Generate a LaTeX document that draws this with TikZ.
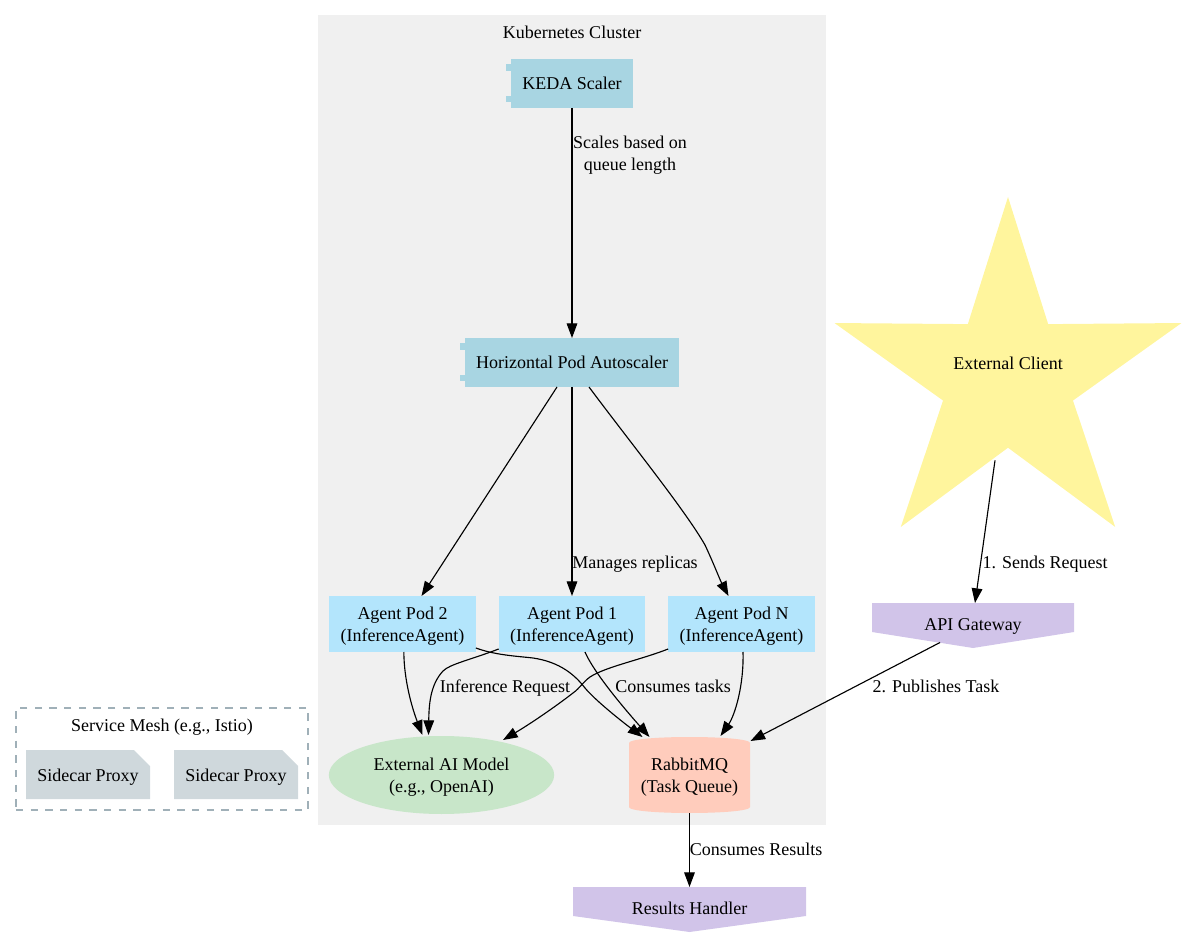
\documentclass[tikz,border=0pt]{standalone}
\usepackage{fontspec}
\setmainfont{Liberation Serif}
\usetikzlibrary{arrows.meta, shapes.geometric, shapes.misc}
\definecolor{clusterbg}{HTML}{F0F0F0}
\definecolor{scalerblue}{HTML}{A8D5E2}
\definecolor{podblue}{HTML}{B3E5FC}
\definecolor{modelgreen}{HTML}{C8E6C9}
\definecolor{queuepeach}{HTML}{FFCCBC}
\definecolor{gatewaypurple}{HTML}{D1C4E9}
\definecolor{clientyellow}{HTML}{FFF59D}
\definecolor{proxygrey}{HTML}{CFD8DC}
\definecolor{meshgrey}{HTML}{A0B0B8}
% Piccole linguette a sinistra dei componenti
\newcommand{\comptabs}[1]{
	\fill[scalerblue] ([shift={(-5.5,5.5)}]#1.north west) rectangle ([shift={(0,12)}]#1.north west);
	\fill[scalerblue] ([shift={(-5.5,-5.5)}]#1.south west) rectangle ([shift={(0,-12)}]#1.south west);
}
\begin{document}
\begin{tikzpicture}[x=0.75pt, y=-0.75pt, ->, >={Triangle[length=11pt, width=8pt]},
			line width=0.85pt,
			font=\fontsize{13.5pt}{16.5pt}\selectfont,
			every node/.style={align=center, inner sep=0pt, outer sep=0pt},
			oneline/.style={text height=12pt, text depth=3pt},
			twolines/.style={text height=28.5pt, text depth=3pt},
			compbox/.style={rectangle, oneline, fill=scalerblue, minimum height=36.75pt},
			podbox/.style={rectangle, twolines, fill=podblue, minimum width=110pt, minimum height=42pt},
			proxybox/.style={chamfered rectangle, oneline, text height=13.5pt, chamfered rectangle corners=north east,
				chamfered rectangle sep=6pt, fill=proxygrey, minimum width=93pt, minimum height=36.75pt},
			gatebox/.style={rectangle, oneline, text height=10.5pt, minimum height=33.75pt, path picture={
				\fill[gatewaypurple] (path picture bounding box.north west)
					-- (path picture bounding box.north east)
					-- ([yshift=12pt]path picture bounding box.south east)
					-- (path picture bounding box.south)
					-- ([yshift=12pt]path picture bounding box.south west) -- cycle;}},
			queuebox/.style={rectangle, twolines, minimum width=90.75pt, minimum height=57pt, path picture={
				\fill[queuepeach] ([shift={(0,6)}]path picture bounding box.north west)
					.. controls ([shift={(0,-2)}]path picture bounding box.north west)
					and ([shift={(0,-2)}]path picture bounding box.north east)
					.. ([shift={(0,6)}]path picture bounding box.north east)
					-- ([shift={(0,-6)}]path picture bounding box.south east)
					.. controls ([shift={(0,2)}]path picture bounding box.south east)
					and ([shift={(0,2)}]path picture bounding box.south west)
					.. ([shift={(0,-6)}]path picture bounding box.south west) -- cycle;}}]
			
			\useasboundingbox (0,0) rectangle (1185,937);
			
			% Riquadri di sfondo
			\node[rectangle, fill=clusterbg, minimum width=381pt, minimum height=607.5pt] (cluster) at (572,420) {};
			\node[oneline] (clustertitle) at (572,33) {Kubernetes Cluster};
			\node[rectangle, draw=meshgrey, line width=1pt, dash pattern=on 5.5pt off 5.5pt, minimum width=219pt, minimum height=76.5pt] (mesh) at (162,759) {};
			\node[oneline] (meshtitle) at (162,725) {Service Mesh (e.g., Istio)};
			
			% Nodi del cluster
			\node[compbox, minimum width=91.5pt] (keda) at (572,83.5) {KEDA Scaler};
			\comptabs{keda}
			\node[compbox, minimum width=160.5pt] (hpa) at (572,362.5) {Horizontal Pod Autoscaler};
			\comptabs{hpa}
			\node[podbox] (pod2) at (402.5,624) {Agent Pod 2\\(InferenceAgent)};
			\node[podbox] (pod1) at (572,624) {Agent Pod 1\\(InferenceAgent)};
			\node[podbox] (podn) at (741.5,624) {Agent Pod N\\(InferenceAgent)};
			\node[ellipse, twolines, fill=modelgreen, minimum width=169pt, minimum height=58.5pt] (model) at (441.5,775) {External AI Model\\(e.g., OpenAI)};
			\node[queuebox] (queue) at (689.5,775) {RabbitMQ\\(Task Queue)};
			
			% Nodi esterni
			\node[star, star points=5, star point ratio=2.67, fill=clientyellow, minimum size=273.6pt,
				label={[yshift=12pt, oneline]center:External Client}] (client) at (1008,379.4) {};
			\node[gatebox, minimum width=151.5pt] (gateway) at (973,625.5) {API Gateway};
			\node[gatebox, minimum width=174.75pt] (handler) at (689.5,909.5) {Results Handler};
			\node[proxybox] (proxya) at (88,774.5) {Sidecar Proxy};
			\node[proxybox] (proxyb) at (236,774.5) {Sidecar Proxy};
			
			% --- Archi ---
			\draw (keda) -- (hpa) node[twolines] at (630,154) {Scales based on\\queue length};
			
			% Da hpa
			\draw ([xshift=-11.25pt]hpa.south) -- ([shift={(19,0)}]pod2.north);
			\draw (hpa) -- (pod1) node[oneline] at (635,562) {Manages replicas};
			\draw ([xshift=12.75pt]hpa.south) .. controls (630,442) and (685,510) .. (705,545)
				.. controls (713,562) and (720,580) .. ([shift={(-13,0)}]podn.north);
			
			% Verso il modello
			\draw ([xshift=1pt]pod2.south) .. controls (404,680) and (412,708) .. ([shift={(-19,-1)}]model.north);
			\draw ([shift={(0,25)}]pod1.west) .. controls (470,660) and (450,664) .. (443,671)
				.. controls (430,685) and (429,705) .. ([shift={(-13,-1)}]model.north)
				node[oneline] at (505,686) {Inference Request};
			\draw ([shift={(0,25)}]podn.west) .. controls (640,660) and (605,667) .. (590,677)
				.. controls (583,682) and (580,688) .. (573,693)
				.. controls (555,707) and (530,724) .. (503,740);
			
			% Verso la coda
			\draw ([shift={(0,24)}]pod2.east) .. controls (495,655) and (515,656) .. (533,658)
				.. controls (560,662) and (575,675) .. (585,688)
				.. controls (595,700) and (620,720) .. ([shift={(-47,0)}]queue.north);
			\draw ([shift={(13,0)}]pod1.south) .. controls (595,675) and (630,715) .. ([shift={(-40,0)}]queue.north)
				node[oneline] at (673,686) {Consumes tasks};
			\draw ([shift={(1.5,0)}]podn.south) .. controls (744,685) and (735,715) .. ([shift={(31,-1)}]queue.north);
			
			% Esterni
			\draw ([shift={(-13,81)}]client.center) -- ([shift={(2,0)}]gateway.north)
				node[oneline] at (1045,562) {1. Sends Request};
			\draw ([shift={(-33,17)}]gateway.center) -- ([shift={(61,4)}]queue.north)
				node[oneline] at (936,686) {2. Publishes Task};
			\draw (queue) -- (handler.north) node[oneline] at (756,849) {Consumes Results};
		\end{tikzpicture}
\end{document}
